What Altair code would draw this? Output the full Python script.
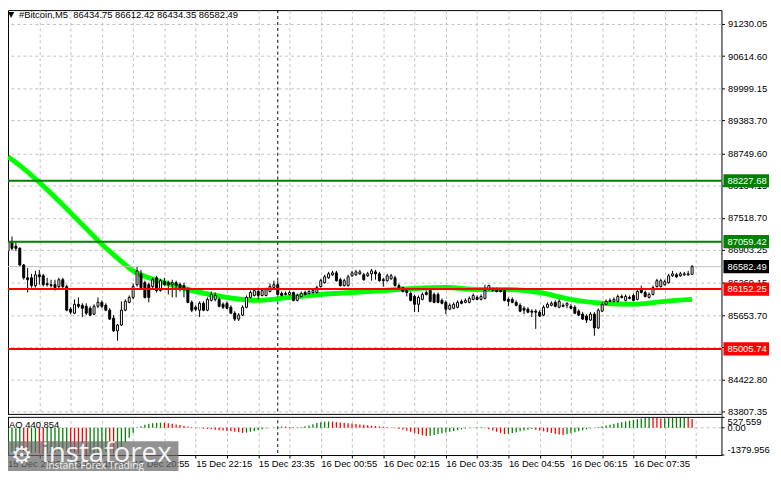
import altair as alt
import pandas as pd

# ---------------- data ----------------
opens = [
    86878, 87066, 86972, 86934, 86614, 86369, 86369, 86219, 86426, 86407,
    86256, 86237, 86237, 86200, 86332, 86200, 85767, 85691, 85861, 85842,
    85823, 85785, 85672, 85823, 85898, 85842, 85748, 85597, 85352, 85465,
    85748, 85898, 85993, 86237, 86445, 86275, 86237, 86200, 86369, 86124,
    86294, 86275, 86237, 86275, 86237, 86219, 86143, 85898, 85804, 85748,
    85880, 85748, 85936, 85955, 85955, 85861, 85880, 85804, 85691, 85578,
    85654, 85804, 85993, 86030, 86106, 86030, 86030, 86106, 86181, 86237,
    86068, 86068, 86049, 86087, 85936, 86011, 86087, 86068, 86087, 86087,
    86200, 86275, 86369, 86426, 86463, 86332, 86219, 86219, 86407, 86426,
    86445, 86426, 86407, 86445, 86482, 86445, 86332, 86313, 86350, 86369,
    86219, 86181, 86124, 86068, 86011, 85861, 85955, 86087, 86124, 86049,
    86049, 85936, 85898, 85767, 85785, 85804, 85917, 85898, 85898, 85955,
    85993, 85955, 85974, 86143, 86143, 86143, 86124, 86124, 85955, 85955,
    85898, 85842, 85785, 85767, 85729, 85729, 85710, 85654, 85804, 85842,
    85898, 85804, 85842, 85842, 85823, 85804, 85729, 85672, 85635, 85559,
    85672, 85409, 85729, 85861, 85917, 85917, 85917, 86011, 85936, 85993,
    86030, 85955, 86143, 86087, 85993, 86049, 86200, 86200, 86237, 86275,
    86407, 86426, 86407, 86426, 86426, 86434.75,
]
highs = [
    87123, 87160, 87066, 86953, 86633, 86558, 86445, 86501, 86520, 86445,
    86369, 86332, 86332, 86369, 86369, 86237, 85804, 85955, 85993, 85880,
    85880, 85823, 85861, 85993, 85936, 85880, 85785, 85654, 85484, 85917,
    85955, 86030, 86256, 86576, 86520, 86313, 86275, 86369, 86407, 86350,
    86369, 86313, 86332, 86313, 86275, 86275, 86181, 85936, 85842, 85917,
    85917, 85993, 86106, 86087, 85993, 85898, 85917, 85842, 85729, 85691,
    85842, 86030, 86124, 86162, 86181, 86162, 86181, 86256, 86313, 86313,
    86106, 86106, 86124, 86106, 86068, 86106, 86124, 86143, 86162, 86219,
    86350, 86426, 86482, 86501, 86501, 86369, 86350, 86426, 86501, 86520,
    86520, 86463, 86482, 86539, 86520, 86482, 86369, 86445, 86445, 86407,
    86256, 86200, 86143, 86106, 86049, 86030, 86087, 86124, 86162, 86087,
    86087, 85974, 85936, 85880, 85898, 85936, 85955, 85974, 86011, 86068,
    86030, 86049, 86237, 86237, 86181, 86181, 86162, 86162, 85993, 85993,
    85936, 85880, 85823, 85804, 85767, 85767, 85748, 85842, 85898, 85917,
    85936, 85955, 85880, 85898, 85861, 85842, 85767, 85710, 85672, 85710,
    85710, 85785, 85898, 85955, 85974, 85993, 86049, 86049, 86049, 86030,
    86068, 86143, 86219, 86124, 86087, 86219, 86350, 86350, 86332, 86445,
    86501, 86463, 86482, 86482, 86501, 86612.42,
]
lows = [
    86821, 86897, 86878, 86595, 86332, 86087, 86181, 86181, 86237, 86200,
    86200, 86181, 86124, 86162, 86162, 85729, 85672, 85672, 85785, 85616,
    85654, 85635, 85654, 85785, 85785, 85729, 85559, 85333, 85164, 85446,
    85729, 85880, 85955, 86200, 86143, 85974, 85898, 86162, 86087, 86106,
    86219, 86049, 85993, 85993, 86106, 85993, 85880, 85710, 85729, 85616,
    85729, 85729, 85917, 85917, 85804, 85767, 85767, 85672, 85541, 85541,
    85635, 85785, 85974, 86011, 85955, 86011, 86011, 86087, 86162, 86030,
    86011, 86030, 86030, 85917, 85917, 85993, 86030, 86049, 86068, 86068,
    86181, 86256, 86350, 86407, 86294, 86200, 86200, 86200, 86388, 86407,
    86426, 86313, 86388, 86313, 86332, 86294, 86200, 86294, 86332, 86200,
    86162, 86087, 86011, 85917, 85710, 85710, 85936, 86030, 85898, 85880,
    85880, 85861, 85672, 85748, 85767, 85785, 85861, 85880, 85880, 85936,
    85936, 85936, 85955, 86124, 86106, 86087, 86087, 85917, 85823, 85880,
    85823, 85710, 85672, 85691, 85616, 85390, 85616, 85635, 85785, 85823,
    85804, 85785, 85804, 85785, 85767, 85672, 85635, 85559, 85503, 85541,
    85258, 85390, 85710, 85842, 85898, 85898, 85898, 85974, 85917, 85955,
    85917, 85936, 86068, 85993, 85974, 86030, 86181, 86181, 86219, 86256,
    86388, 86369, 86388, 86407, 86407, 86434.35,
]
closes = [
    87066, 86934, 86934, 86614, 86369, 86332, 86219, 86426, 86388, 86237,
    86237, 86219, 86181, 86332, 86200, 85748, 85710, 85861, 85823, 85785,
    85691, 85654, 85823, 85898, 85823, 85748, 85578, 85352, 85465, 85748,
    85917, 85993, 86200, 86501, 86181, 85993, 85993, 86332, 86124, 86313,
    86237, 86237, 86275, 86219, 86143, 86143, 85898, 85748, 85767, 85880,
    85748, 85955, 86049, 86030, 85823, 85804, 85785, 85691, 85578, 85654,
    85804, 85993, 86087, 86124, 86030, 86124, 86143, 86200, 86237, 86049,
    86030, 86049, 86087, 85936, 86030, 86068, 86049, 86106, 86124, 86181,
    86313, 86388, 86445, 86463, 86313, 86219, 86313, 86388, 86463, 86482,
    86482, 86332, 86445, 86501, 86445, 86313, 86313, 86407, 86407, 86219,
    86181, 86106, 86087, 85936, 85861, 85993, 86049, 86049, 85917, 85898,
    85898, 85880, 85767, 85842, 85861, 85898, 85880, 85936, 85974, 86030,
    85955, 86011, 86124, 86219, 86124, 86106, 86106, 85936, 85917, 85898,
    85842, 85729, 85748, 85710, 85710, 85710, 85635, 85804, 85861, 85880,
    85823, 85917, 85823, 85880, 85785, 85691, 85654, 85578, 85559, 85672,
    85409, 85748, 85861, 85917, 85936, 85955, 86011, 85993, 86011, 85974,
    85936, 86106, 86087, 86011, 86049, 86181, 86313, 86313, 86294, 86407,
    86445, 86388, 86445, 86445, 86445, 86582.49,
]

ma_idx = [0, 4, 8, 12, 16, 20, 24, 28, 32, 36, 40, 48, 56, 64, 72, 80, 88,
          96, 104, 112, 120, 128, 136, 144, 152, 160, 168, 175]
ma_vals = [88687, 88461, 88197, 87914, 87613, 87311, 87010, 86746, 86501,
           86369, 86275, 86106, 85993, 85936, 85993, 86049, 86087, 86124,
           86162, 86181, 86143, 86143, 86087, 85955, 85880, 85861, 85917, 85955]

ao_vals = [
    -1250, -1220, -1200, -1180, -1230, -1290, -1270, -1250, -1290, -1330, -1310, -1280, -1250, -1220, -1190, -1160,
    -1200, -1250, -1300, -1340, -1379, -1350, -1320, -1290, -1260, -1230, -1260, -1300, -1200, -1000, -750, -500,
    -250, 20, 80, 150, 200, 230, 250, 260, 250, 230, 200, 170, 140, 100, 60, 30,
    10, -20, -40, -60, -80, -100, -120, -140, -160, -180, -200, -230, -260, -240, -200, -160,
    -120, -80, -40, 0, 20, 40, 60, 50, 40, 30, 20, 40, 80, 120, 180, 240,
    280, 300, 320, 310, 290, 270, 250, 230, 210, 190, 170, 150, 130, 110, 90, 70,
    50, 30, 10, -20, -60, -100, -150, -200, -260, -320, -380, -420, -400, -360, -320, -280,
    -240, -200, -160, -120, -80, -40, -10, 10, 20, 30, -20, -80, -140, -200, -260, -320,
    -300, -260, -220, -180, -140, -100, -60, -100, -140, -180, -220, -260, -300, -340, -370, -330,
    -280, -230, -180, -130, -80, -40, 0, 40, 80, 120, 160, 200, 240, 280, 320, 360,
    400, 440, 470, 500, 527, 510, 490, 470, 480, 490, 500, 510, 520, 527, 500, 440.854,
]

price_ticks = [91230.05, 90614.60, 89999.15, 89383.70, 88749.60, 88134.15, 87518.70,
               86903.25, 86269.15, 85653.70, 85038.25, 84422.80, 83807.35]
level_prices = [88227.68, 87059.42, 86152.25, 85005.74]
level_colors = ["#008000", "#008000", "#ff0000", "#ff0000"]
last_price = 86582.49
ao_max, ao_min = 527.559, -1379.956
time_tick_idx = [0, 16, 32, 48, 64, 80, 96, 112, 128, 144, 160]
time_labels = ["15 Dec 2025", "15 Dec 19:35", "15 Dec 20:55", "15 Dec 22:15",
               "15 Dec 23:35", "16 Dec 00:55", "16 Dec 02:15", "16 Dec 03:35",
               "16 Dec 04:55", "16 Dec 06:15", "16 Dec 07:35"]
day_sep_idx = 69
header = "#Bitcoin,M5\u00a0\u00a086434.75 86612.42 86434.35 86582.49"
ao_title = "AO 440.854"

# ---------------- layout (one view: price panel on top, AO panel below) ----------------
W = 720          # plot width
HM = 408         # price panel height
GAP = 3          # gap between panels
HA = 38          # AO panel height
H = HM + GAP + HA
PPX = 18.98      # price units per pixel
P_TOP = 91496
Y_DOM = [P_TOP - H * PPX, P_TOP]
P_MAIN_BOT = P_TOP - HM * PPX
P_AO_EDGE = P_TOP - (HM + GAP) * PPX
AO_PPX = (ao_max - ao_min) / HA
AO_DOM = [ao_min, ao_max + (HM + GAP) * AO_PPX]
X_DOM = [1.25, 181.25]
FONT = "Liberation Sans"
FS = 9.5
GRID = "#c0c0c0"

n = len(closes)
candles = pd.DataFrame({"i": list(range(n)), "open": opens, "high": highs,
                        "low": lows, "close": closes})
candles["top"] = candles[["open", "close"]].max(axis=1)
candles["bot"] = candles[["open", "close"]].min(axis=1)
candles["fill"] = ["#ffffff" if c >= o else "#000000" for o, c in zip(opens, closes)]

grid_idx = list(range(8, 184, 8))
lab_expr = "''"
for ti, tl in reversed(list(zip(time_tick_idx[1:], time_labels[1:]))):
    lab_expr = f"datum.value == {ti} ? '{tl}' : ({lab_expr})"

xax = alt.Axis(values=grid_idx, labelExpr=lab_expr, title=None, grid=True, gridColor=GRID,
               gridDash=[3, 3], domain=False, tickSize=3, tickColor="black",
               labelAlign="left", labelBaseline="top", labelFont=FONT, labelFontSize=FS,
               labelColor="black", labelPadding=1, labelOverlap=False, labelFlush=False)
yax_main = alt.Axis(orient="right", values=price_ticks, format=".2f", title=None,
                    grid=True, gridColor=GRID, gridDash=[3, 3], domain=False,
                    tickSize=3, tickColor="black", labelFont=FONT, labelFontSize=FS,
                    labelColor="black", labelPadding=3, labelOverlap=False)


def X(f):
    return alt.X(f, type="quantitative", scale=alt.Scale(domain=X_DOM, nice=False, zero=False), axis=xax)


def YM(f):
    return alt.Y(f, type="quantitative", scale=alt.Scale(domain=Y_DOM, nice=False, zero=False), axis=yax_main)


def YA(f):
    return alt.Y(f, type="quantitative", scale=alt.Scale(domain=AO_DOM, nice=False, zero=False), axis=None)


# ----- price panel -----
ma_df = pd.DataFrame({"i": ma_idx, "ma": ma_vals})
ma = alt.Chart(ma_df).mark_line(color="#00ff00", strokeWidth=5, interpolate="monotone", clip=True).encode(
    x=X("i"), y=YM("ma"))
pline = alt.Chart(pd.DataFrame({"price": [last_price]})).mark_rule(color="#c0c0c0", strokeWidth=1).encode(
    y=YM("price"))
sep_df = pd.DataFrame({"i": [day_sep_idx]})
sep = alt.Chart(sep_df).mark_rule(color="black", strokeDash=[3, 3], strokeWidth=1).encode(x=X("i"))
gap_df = pd.DataFrame({"a": [P_MAIN_BOT], "b": [P_AO_EDGE]})
gap_fill = alt.Chart(gap_df).mark_rect(color="white").encode(y=YM("a"), y2="b")
gap_line = alt.Chart(gap_df).mark_rule(color="black", strokeWidth=1).encode(y=YM("a"))
wicks = alt.Chart(candles).mark_rule(color="black", strokeWidth=1, clip=True).encode(
    x=X("i"), y=YM("low"), y2="high")
bodies = alt.Chart(candles).mark_bar(size=2, stroke="black", strokeWidth=1, clip=True).encode(
    x=X("i"), y=YM("bot"), y2="top", fill=alt.Fill("fill:N", scale=None))
lv_df = pd.DataFrame({"price": level_prices, "col": level_colors})
levels = alt.Chart(lv_df).mark_rule(strokeWidth=2).encode(
    y=YM("price"), color=alt.Color("col:N", scale=None))
box_df = pd.DataFrame({
    "price": level_prices + [last_price],
    "col": level_colors + ["#000000"],
    "txt": [f"{p:.2f}" for p in level_prices + [last_price]],
})
box_shape = "M-1,-0.29L1,-0.29L1,0.29L-1,0.29Z"
boxes = alt.Chart(box_df).mark_point(shape=box_shape, filled=True, size=2116, opacity=1, strokeWidth=0).encode(
    x=alt.value(W + 25), y=YM("price"), color=alt.Color("col:N", scale=None))
boxtxt = alt.Chart(box_df).mark_text(align="left", baseline="middle", font=FONT, fontSize=FS, color="white").encode(
    x=alt.value(W + 6), y=YM("price"), text="txt:N")

main = alt.layer(sep, ma, pline, wicks, bodies, levels, gap_fill, gap_line, boxes, boxtxt)

# ----- AO panel -----
ao_df = pd.DataFrame({"i": list(range(len(ao_vals))), "ao": ao_vals, "zero": 0.0})
ao_df["col"] = ["#008000" if (k == 0 or v > ao_vals[k - 1]) else "#ff0000" for k, v in enumerate(ao_vals)]
ao_bars = alt.Chart(ao_df).mark_rule(strokeWidth=1.3).encode(
    x=X("i"), y=YA("ao"), y2="zero", color=alt.Color("col:N", scale=None))
zero_line = alt.Chart(pd.DataFrame({"v": [0.0]})).mark_rule(color=GRID, strokeDash=[3, 3]).encode(y=YA("v"))
ao_top = alt.Chart(pd.DataFrame({"v": [ao_max]})).mark_rule(color="black", strokeWidth=1).encode(y=YA("v"))
ao_tk_df = pd.DataFrame({"v": [ao_max, 0.0, ao_min], "t": ["527.559", "0.00", "-1379.956"]})
ao_ticks = alt.Chart(ao_tk_df).mark_rule(color="black").encode(
    x=alt.value(W), x2=alt.value(W + 3), y=YA("v"))
ao_t_top = alt.Chart(ao_tk_df.iloc[[0]]).mark_text(
    align="left", baseline="top", font=FONT, fontSize=FS, color="black").encode(
    x=alt.value(W + 6), y=YA("v"), text="t:N")
ao_t_mid = alt.Chart(ao_tk_df.iloc[[1]]).mark_text(
    align="left", baseline="middle", font=FONT, fontSize=FS, color="black").encode(
    x=alt.value(W + 6), y=YA("v"), text="t:N")
ao_t_bot = alt.Chart(ao_tk_df.iloc[[2]]).mark_text(
    align="left", baseline="bottom", font=FONT, fontSize=FS, color="black").encode(
    x=alt.value(W + 6), y=YA("v"), text="t:N")

aopanel = alt.layer(zero_line, ao_bars, ao_top, ao_ticks, ao_t_top, ao_t_mid, ao_t_bot)

# ----- texts and watermark -----
head_tri = alt.Chart(pd.DataFrame({"t": ["\u25bc"]})).mark_text(
    align="left", baseline="middle", font="DejaVu Sans", fontSize=8, color="black").encode(
    x=alt.value(0), y=alt.value(5), text="t:N")
head = alt.Chart(pd.DataFrame({"t": [header]})).mark_text(
    align="left", baseline="middle", font=FONT, fontSize=FS, color="black").encode(
    x=alt.value(11), y=alt.value(5), text="t:N")
ao_lab = alt.Chart(pd.DataFrame({"t": [ao_title]})).mark_text(
    align="left", baseline="middle", font=FONT, fontSize=FS, color="black").encode(
    x=alt.value(1), y=alt.value(HM + GAP + 8), text="t:N")
first_lab = alt.Chart(pd.DataFrame({"t": [time_labels[0]]})).mark_text(
    align="left", baseline="top", font=FONT, fontSize=FS, color="black").encode(
    x=alt.value(0), y=alt.value(H + 4), text="t:N")
one = pd.DataFrame({"k": [0]})
wm_box = alt.Chart(one).mark_rect(color="#6a6a6a", opacity=0.72).encode(
    x=alt.value(0), x2=alt.value(172), y=alt.value(H - 14), y2=alt.value(H + 16))
wm_logo = alt.Chart(pd.DataFrame({"t": ["\u2699"]})).mark_text(
    align="left", baseline="middle", font="DejaVu Sans", fontSize=24, color="white", opacity=0.9).encode(
    x=alt.value(3), y=alt.value(H + 1), text="t:N")
wm_big = alt.Chart(pd.DataFrame({"t": ["instaforex"]})).mark_text(
    align="left", baseline="middle", font="Open Sans", fontSize=28, color="white", opacity=0.9).encode(
    x=alt.value(34), y=alt.value(H - 1), text="t:N")
wm_small = alt.Chart(pd.DataFrame({"t": ["Instant Forex Trading"]})).mark_text(
    align="left", baseline="middle", font="Open Sans", fontSize=10, color="white", opacity=0.9).encode(
    x=alt.value(38), y=alt.value(H + 11), text="t:N")
deco = alt.layer(head_tri, head, ao_lab, first_lab, wm_box, wm_logo, wm_big, wm_small)

chart = alt.layer(main, aopanel, deco).resolve_scale(y="independent").properties(
    width=W, height=H,
    autosize=alt.AutoSizeParams(type="none"),
    padding={"left": 0, "top": 0, "right": 52, "bottom": 14},
    background="white",
).configure_view(stroke="black", strokeWidth=1)

chart.save("out.html", embed_options={"renderer": "svg", "actions": False})
